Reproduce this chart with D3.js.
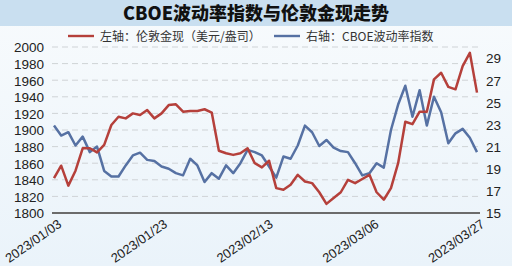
<!DOCTYPE html>
<html lang="zh">
<head>
<meta charset="UTF-8">
<title>CBOE波动率指数与伦敦金现走势</title>
<script src="https://d3js.org/d3.v7.min.js"></script>
<style>
  html, body { margin: 0; padding: 0; background: #fff; }
  svg { display: block; font-family: "Liberation Sans", "Noto Sans CJK SC", sans-serif; }
  .title { font-family: "Noto Sans CJK SC", sans-serif; font-size: 18px; font-weight: 900; fill: #111; }
  .legend-text { font-family: "Noto Sans CJK SC", sans-serif; font-size: 12px; fill: #333; }
  .tick-label { font-size: 13.5px; fill: #222; }
</style>
</head>
<body>
<div id="chart"></div>
<script>
// tick labels on the date axis
const tickLabels = ["2023/01/03", "2023/01/23", "2023/02/13", "2023/03/06", "2023/03/27"];

// left axis: London spot gold (USD/oz)
const goldValues = [
  1842, 1857, 1833, 1851, 1878, 1878, 1873, 1882, 1906, 1916,
  1914, 1920, 1918, 1924, 1914, 1920, 1930, 1931, 1922, 1923,
  1923, 1925, 1921, 1875, 1872, 1870, 1872, 1878, 1860, 1855,
  1863, 1830, 1828, 1834, 1846, 1838, 1836, 1825, 1811, 1818,
  1825, 1840, 1836, 1841, 1846, 1825, 1816, 1830, 1860, 1910,
  1907, 1922, 1922, 1961, 1969, 1952, 1949, 1977, 1993, 1945
];

// right axis: CBOE volatility index
const vixValues = [
  22.9, 22.0, 22.3, 21.1, 21.9, 20.5, 21.0, 18.8, 18.3, 18.3,
  19.3, 20.2, 20.45, 19.8, 19.7, 19.2, 19.0, 18.6, 18.4, 19.9,
  19.3, 17.8, 18.6, 18.1, 19.3, 18.6, 19.5, 20.7, 20.5, 20.2,
  19.2, 18.2, 20.1, 19.9, 21.1, 22.9, 22.3, 21.05, 21.6, 20.9,
  20.6, 20.5, 19.5, 18.4, 18.6, 19.5, 19.1, 22.5, 24.8, 26.5,
  23.7, 26.1, 22.9, 25.5, 24.1, 21.3, 22.2, 22.6, 21.8, 20.5
];

const leftTicks = [1800, 1820, 1840, 1860, 1880, 1900, 1920, 1940, 1960, 1980, 2000];
const rightTicks = [15, 17, 19, 21, 23, 25, 27, 29];

const W = 512, H = 266;
const red = "#b5403b", blue = "#5671a3";

const svg = d3.select("#chart").append("svg")
    .attr("width", W)
    .attr("height", H);

const defs = svg.append("defs");
const grad = defs.append("linearGradient")
    .attr("id", "bg").attr("x1", 0).attr("y1", 0).attr("x2", 0).attr("y2", 1);
grad.append("stop").attr("offset", "0%").attr("stop-color", "#f8fbfd");
grad.append("stop").attr("offset", "100%").attr("stop-color", "#eaf3fa");

svg.append("rect").attr("width", W).attr("height", H).attr("fill", "url(#bg)");

// title band
svg.append("rect").attr("x", 0).attr("y", 0).attr("width", W).attr("height", 26).attr("fill", "#c9dff0");
svg.append("text")
    .attr("class", "title")
    .attr("x", W / 2).attr("y", 20)
    .attr("text-anchor", "middle")
    .text("CBOE波动率指数与伦敦金现走势");

// scales
const x = d3.scaleLinear().domain([0, goldValues.length - 1]).range([54, 477]);
const yL = d3.scaleLinear().domain([1800, 2000]).range([213, 47]);
const yR = d3.scaleLinear().domain([15, 30]).range([213, 47]);

// gridlines
svg.append("g")
    .selectAll("line")
    .data(leftTicks.filter(d => d > 1800))
    .join("line")
    .attr("x1", 52).attr("x2", 480)
    .attr("y1", d => yL(d)).attr("y2", d => yL(d))
    .attr("stroke", "#cfd3d6")
    .attr("stroke-width", 1)
    .attr("stroke-dasharray", "6,4");

// left axis
const leftAxis = svg.append("g")
    .attr("transform", "translate(44,0)")
    .call(d3.axisLeft(yL).tickValues(leftTicks).tickFormat(d3.format("d")).tickSize(0).tickPadding(0));
leftAxis.select(".domain").remove();
leftAxis.selectAll("text").attr("class", "tick-label").attr("dy", "0.36em");

// right axis
const rightAxis = svg.append("g")
    .attr("transform", "translate(486,0)")
    .call(d3.axisRight(yR).tickValues(rightTicks).tickFormat(d3.format("d")).tickSize(0).tickPadding(0));
rightAxis.select(".domain").remove();
rightAxis.selectAll("text").attr("class", "tick-label").attr("dy", "0.36em");

// bottom axis
const tickPos = tickLabels.map((d, i) => i * (goldValues.length - 1) / (tickLabels.length - 1));
const bottomAxis = svg.append("g")
    .attr("transform", "translate(0,213)")
    .call(d3.axisBottom(x).tickValues(tickPos).tickFormat((d, i) => tickLabels[i]).tickSize(0).tickSizeOuter(0));
bottomAxis.select(".domain")
    .attr("d", "M52,0H480")
    .attr("stroke", "#6b6b6b")
    .attr("stroke-width", 2.2);
bottomAxis.selectAll("text")
    .attr("class", "tick-label")
    .style("font-size", "13px")
    .attr("text-anchor", "end")
    .attr("dy", 0)
    .attr("y", 0)
    .attr("transform", "translate(8,13) rotate(-35)");

// lines
const goldLine = d3.line().x((d, i) => x(i)).y(d => yL(d));
const vixLine = d3.line().x((d, i) => x(i)).y(d => yR(d));

svg.append("path")
    .datum(vixValues)
    .attr("fill", "none")
    .attr("stroke", blue)
    .attr("stroke-width", 2.5)
    .attr("stroke-linejoin", "round")
    .attr("d", vixLine);

svg.append("path")
    .datum(goldValues)
    .attr("fill", "none")
    .attr("stroke", red)
    .attr("stroke-width", 2.5)
    .attr("stroke-linejoin", "round")
    .attr("d", goldLine);

// legend
const legend = [
  { label: "左轴：伦敦金现（美元/盎司）", color: red, x: 68 },
  { label: "右轴：CBOE波动率指数", color: blue, x: 274 }
];
const lg = svg.append("g").selectAll("g").data(legend).join("g")
    .attr("transform", d => `translate(${d.x},36)`);
lg.append("line").attr("x1", 0).attr("x2", 26).attr("stroke", d => d.color).attr("stroke-width", 2.4);
lg.append("text").attr("class", "legend-text").attr("x", 32).attr("y", 4.5).text(d => d.label);
</script>
</body>
</html>
